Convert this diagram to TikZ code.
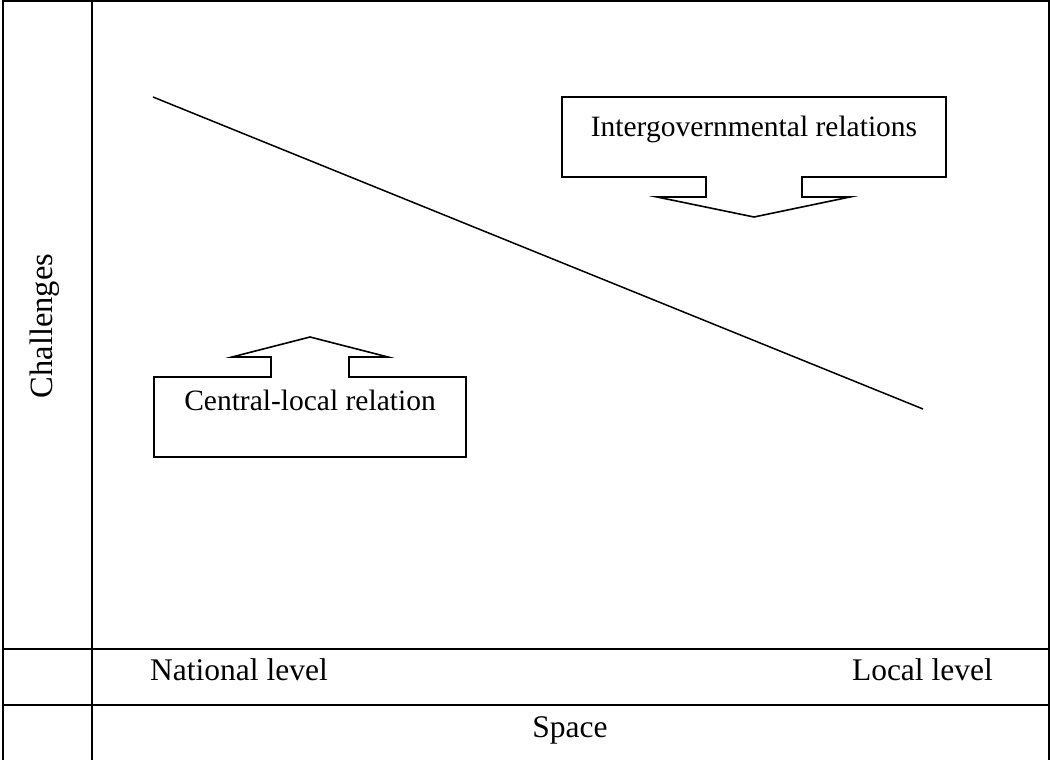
\documentclass[tikz,border=0pt]{standalone}
\usepackage{fontspec}
\setmainfont{Liberation Serif}
\begin{document}
\begin{tikzpicture}[x=1pt,y=-1pt,
  tbl/.style={line width=2.2pt},
  shp/.style={line width=1.6pt, line join=miter},
  boxtxt/.style={inner sep=0pt, anchor=base, font=\fontsize{29.5}{34}\selectfont},
  axtxt/.style={inner sep=0pt, font=\fontsize{31.5}{36}\selectfont}]
\useasboundingbox (0,0) rectangle (1050,760);
% table frame
\coordinate (tl) at (3,1);
\coordinate (tr) at (1049,1);
\coordinate (bl) at (3,760);
\coordinate (br) at (1049,760);
\coordinate (dt) at (92,1);
\coordinate (db) at (92,760);
\coordinate (r1l) at (3,649);
\coordinate (r1r) at (1049,649);
\coordinate (r2l) at (3,705);
\coordinate (r2r) at (1049,705);
\draw[tbl] (bl) -- (tl) -- (tr) -- (br);
\draw[tbl] (dt) -- (db);
\draw[tbl] (r1l) -- (r1r);
\draw[tbl] (r2l) -- (r2r);
% diagonal
\coordinate (hi) at (153,97);
\coordinate (lo) at (923,409);
\draw[line width=1.5pt] (hi) -- (lo);
% callout down
\draw[shp] (562,97) -- (946,97) -- (946,177) -- (802,177) -- (802,197) -- (850,197)
  -- (754,217) -- (657,197) -- (706,197) -- (706,177) -- (562,177) -- cycle;
\node[boxtxt] (ig) at (754,136) {Intergovernmental relations};
% callout up
\draw[shp] (154,457) -- (154,377) -- (271,377) -- (271,357) -- (232,357) -- (310,337)
  -- (388,357) -- (349,357) -- (349,377) -- (466,377) -- (466,457) -- cycle;
\node[boxtxt] (cl) at (310,410) {Central-local relation};
% axis labels
\node[axtxt, rotate=90, font=\fontsize{32.5}{36}\selectfont] (ch) at (45,326) {Challenges};
\node[axtxt, anchor=base west] (nl) at (150,680) {National level};
\node[axtxt, anchor=base east] (ll) at (993,680) {Local level};
\node[axtxt, anchor=base] (sp) at (570,737) {Space};
\end{tikzpicture}
\end{document}
